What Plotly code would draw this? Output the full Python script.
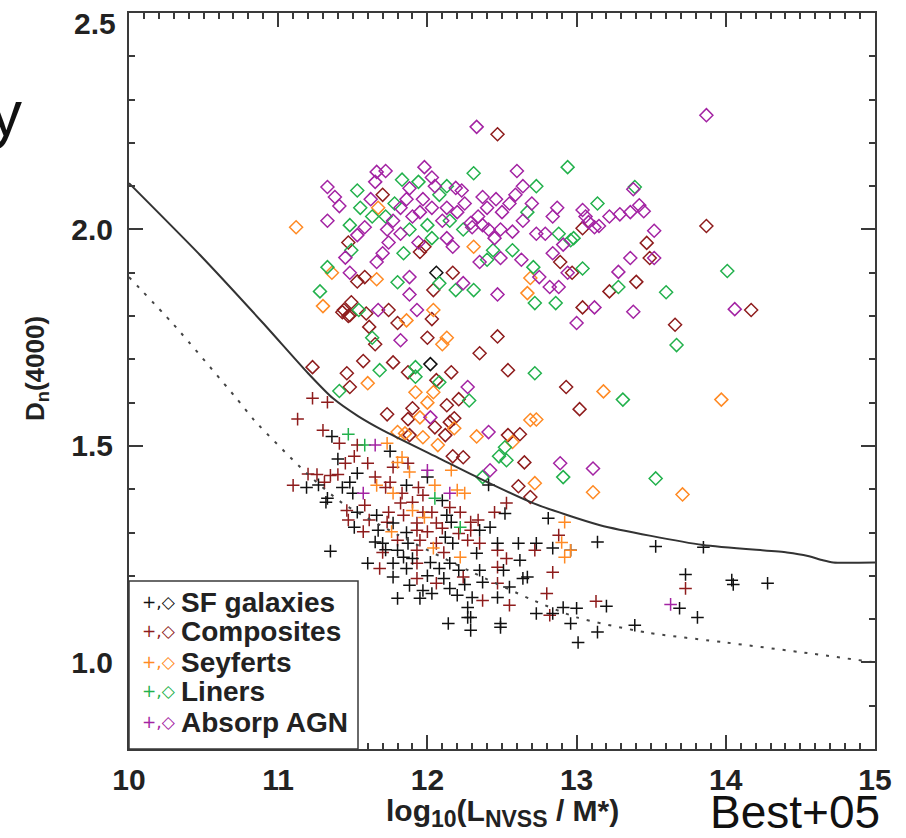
import plotly.graph_objects as go

# ---------------- data ----------------
sf_cross = [(11.36,1.522),(11.75,1.488),(12.0,1.428),(11.19,1.404),(11.33,1.379),(11.48,1.416),(11.53,1.437),
    (11.43,1.404),(11.5,1.391),(11.86,1.409),(12.1,1.374),(11.32,1.37),(11.66,1.34),(11.53,1.347),(12.13,1.34),
    (12.52,1.344),(12.81,1.333),(11.51,1.312),(11.77,1.322),(12.16,1.324),(11.67,1.305),(11.86,1.3),(12.12,1.289),
    (12.35,1.305),(12.42,1.312),(11.65,1.278),(11.7,1.275),(11.87,1.275),(12.17,1.275),(12.47,1.275),(12.61,1.275),
    (12.73,1.275),(12.84,1.264),(12.96,1.259),(13.14,1.278),(11.35,1.257),(11.8,1.259),(11.84,1.243),(12.33,1.252),
    (12.62,1.236),(11.6,1.229),(11.77,1.229),(11.86,1.217),(12.02,1.231),(12.08,1.217),(12.15,1.229),(12.21,1.213),
    (12.35,1.213),(12.51,1.213),(12.64,1.194),(12.67,1.197),(11.77,1.197),(12.11,1.194),(12.37,1.185),(12.55,1.174),
    (11.88,1.178),(11.97,1.166),(12.03,1.159),(12.15,1.171),(12.2,1.155),(12.3,1.15),(12.47,1.15),(12.73,1.113),
    (12.91,1.127),(13.0,1.125),(11.8,1.148),(11.95,1.148),(12.27,1.127),(12.29,1.104),(12.14,1.09),(12.49,1.09),
    (12.96,1.09),(13.53,1.268),(13.85,1.266),(13.73,1.203),(14.04,1.19),(14.05,1.18),(14.28,1.183),(13.69,1.125),
    (13.81,1.104),(13.2,1.13),(13.14,1.07),(13.01,1.046),(13.39,1.086),(11.27,1.41),(11.4,1.47),(12.41,1.41),
    (12.49,1.081),(12.29,1.074),(12.27,1.104),(12.84,1.113),(11.9,1.24),(12.0,1.2),(12.25,1.18),(11.72,1.26)]
sf_diam = [(12.06,1.9),(12.02,1.689)]

comp_cross = [(11.23,1.61),(11.33,1.601),(11.13,1.562),(11.3,1.536),(11.41,1.506),(11.53,1.502),(11.51,1.476),
    (11.6,1.46),(11.87,1.46),(11.77,1.451),(11.26,1.434),(11.35,1.432),(11.4,1.434),(11.1,1.409),(11.31,1.416),
    (11.65,1.428),(11.72,1.404),(11.83,1.391),(11.75,1.416),(11.94,1.404),(11.97,1.386),(11.9,1.37),(11.82,1.368),
    (11.58,1.363),(11.46,1.351),(11.74,1.347),(11.84,1.34),(11.97,1.347),(12.03,1.347),(12.15,1.358),(12.22,1.347),
    (11.47,1.329),(11.61,1.329),(11.73,1.324),(11.93,1.322),(12.06,1.322),(12.29,1.324),(12.34,1.329),(12.45,1.347),
    (12.53,1.368),(12.88,1.294),(11.57,1.302),(11.93,1.305),(12.0,1.302),(12.21,1.298),(12.29,1.305),(11.8,1.282),
    (11.95,1.282),(12.06,1.275),(12.27,1.282),(12.35,1.275),(11.7,1.254),(11.93,1.259),(12.11,1.254),(12.47,1.259),
    (12.53,1.24),(12.72,1.259),(11.68,1.217),(11.93,1.229),(12.47,1.22),(12.84,1.208),(11.93,1.194),(12.24,1.197),
    (12.47,1.183),(12.06,1.183),(12.37,1.143),(12.55,1.132),(12.8,1.159),(12.82,1.109),(13.13,1.141),(13.73,1.171),
    (11.2,1.435),(11.45,1.46),(12.1,1.31)]
comp_diam = [(12.47,2.22),(11.7,2.08),(11.98,1.96),(11.53,1.88),(11.58,1.89),(11.95,1.948),(12.04,1.86),(12.17,1.9),
    (12.97,1.9),(13.04,1.82),(11.44,1.814),(11.49,1.832),(11.47,1.8),(11.59,1.806),(11.74,1.814),(11.8,1.784),
    (12.03,1.793),(11.61,1.775),(12.89,1.925),(13.04,2.003),(13.87,2.008),(13.47,1.969),(13.49,1.934),(13.4,1.879),
    (13.22,1.857),(14.17,1.814),(13.66,1.78),(12.93,1.636),(13.02,1.585),(12.0,1.75),(12.47,1.753),(11.65,1.735),
    (11.23,1.682),(11.46,1.668),(11.57,1.696),(11.77,1.693),(11.48,1.636),(11.87,1.67),(12.06,1.652),(12.16,1.67),
    (12.21,1.608),(12.13,1.594),(11.9,1.587),(11.87,1.562),(11.73,1.573),(12.05,1.543),(12.15,1.555),(12.18,1.564),
    (12.12,1.525),(11.88,1.525),(12.17,1.476),(12.24,1.474),(12.54,1.525),(12.62,1.527),(12.54,1.675),(12.35,1.714),
    (12.65,1.462),(12.61,1.407),(12.69,1.382),(11.47,1.97),(11.43,1.809),(11.48,1.802)]

sey_cross = [(11.73,1.506),(11.8,1.462),(11.83,1.474),(11.88,1.44),(11.66,1.409),(11.77,1.391),(12.05,1.409),
    (12.2,1.398),(12.25,1.391),(12.16,1.444),(11.9,1.351),(11.98,1.335),(11.76,1.302),(12.04,1.264),(12.22,1.243),
    (12.92,1.324),(12.96,1.259),(12.92,1.243),(12.9,1.277)]
sey_diam = [(11.67,2.05),(11.36,1.9),(11.66,1.885),(12.31,1.96),(12.69,1.888),(12.67,1.853),(11.3,1.823),(11.86,1.79),
    (12.04,1.814),(11.12,2.005),(12.13,1.75),(12.1,1.735),(11.6,1.645),(11.92,1.624),(12.04,1.624),(12.0,1.6),
    (11.95,1.566),(12.18,1.541),(11.8,1.532),(11.85,1.529),(11.97,1.52),(12.07,1.502),(12.33,1.522),(12.57,1.509),
    (12.69,1.56),(12.73,1.561),(12.72,1.414),(13.11,1.393),(13.18,1.626),(13.97,1.607),(13.71,1.388)]

lin_cross = [(11.47,1.527),(11.58,1.502),(12.05,1.379),(12.22,1.312)]
lin_diam = [(12.31,2.13),(12.94,2.144),(11.53,2.09),(11.83,2.115),(11.94,2.11),(12.13,2.1),(12.08,2.08),(12.73,2.1),
    (11.72,2.03),(11.63,2.03),(11.48,2.01),(11.55,2.05),(11.88,2.0),(11.84,1.945),(12.03,1.98),(12.24,2.0),
    (12.67,2.04),(12.88,1.99),(12.96,1.975),(13.14,2.06),(11.33,1.913),(11.8,1.878),(12.08,1.876),(12.19,1.86),
    (12.31,1.86),(12.4,1.93),(12.44,1.952),(12.57,1.952),(12.71,1.913),(13.04,1.91),(12.72,1.83),(12.86,1.83),
    (11.28,1.857),(11.54,1.814),(13.39,2.098),(12.98,1.98),(13.28,1.867),(14.01,1.904),(13.6,1.855),(13.67,1.733),
    (13.31,1.607),(12.91,1.428),(13.53,1.425),(11.63,1.75),(11.68,1.675),(11.41,1.627),(11.92,1.682),(11.92,1.66),
    (12.08,1.647),(12.28,1.605),(12.52,1.497),(12.48,1.476),(12.53,1.467),(12.37,1.428),(12.72,1.668),(11.49,1.952),
    (11.78,2.06),(12.0,2.01),(12.15,2.02)]

abs_cross = [(11.65,1.502),(11.57,1.391),(12.0,1.444),(12.15,1.391),(13.63,1.134)]
abs_diam = [(12.33,2.237),(11.98,2.144),(12.6,2.135),(11.66,2.133),(11.72,2.135),(11.33,2.098),(11.38,2.075),
    (11.41,2.054),(11.33,2.02),(11.65,2.11),(11.88,2.095),(12.03,2.12),(12.05,2.1),(12.19,2.096),(12.23,2.09),
    (11.97,2.07),(12.37,2.075),(12.46,2.07),(12.59,2.08),(12.64,2.1),(12.55,2.06),(12.4,2.05),(12.34,2.03),
    (12.29,2.015),(12.37,2.01),(12.2,2.04),(12.13,2.05),(12.03,2.05),(11.95,2.04),(11.82,2.05),(11.77,2.02),
    (11.58,2.005),(11.73,2.0),(11.82,1.99),(11.74,1.97),(11.7,1.945),(11.94,1.97),(12.13,1.98),(12.17,1.96),
    (12.3,2.005),(12.41,2.0),(12.49,2.0),(12.57,1.995),(12.64,2.02),(12.73,1.99),(12.79,1.99),(12.87,2.05),
    (12.84,2.03),(12.91,1.965),(13.04,2.045),(13.06,2.03),(13.12,2.005),(11.66,1.925),(11.45,1.935),(11.48,1.9),
    (11.88,1.89),(12.24,1.876),(12.35,1.925),(12.49,1.934),(12.63,1.93),(12.75,1.89),(12.84,1.945),(12.94,1.9),
    (12.88,1.867),(12.82,1.867),(12.47,1.85),(13.12,1.82),(13.0,1.784),(11.67,1.814),(11.93,1.814),(11.88,1.85),
    (13.87,2.264),(13.38,2.093),(13.08,2.017),(13.15,2.008),(13.22,2.03),(13.29,2.035),(13.36,2.04),(13.42,2.056),
    (13.45,2.042),(13.52,1.997),(13.52,1.934),(13.36,1.934),(13.28,1.902),(13.38,1.81),(14.06,1.816),(12.89,1.46),
    (13.11,1.448),(11.82,1.744),(12.27,1.636),(12.02,1.566),(12.41,1.532),(12.42,1.444),(11.53,1.987),
    (11.9,2.03),(12.25,2.06),(12.5,2.04),(12.7,2.06),(11.62,2.07),(12.1,2.02),(12.45,1.98),(11.86,2.07)]

solid_x = [10.0, 10.476, 10.898, 11.2, 11.367, 11.535, 11.702, 12.064, 12.373, 12.708, 13.157, 13.847, 14.41, 14.55, 14.65, 14.72, 15.0]
solid_y = [2.107, 1.941, 1.784, 1.668, 1.61, 1.569, 1.536, 1.474, 1.421, 1.368, 1.317, 1.271, 1.254, 1.246, 1.236, 1.231, 1.231]
dot_x = [10.0, 10.3, 10.72, 10.84, 11.19, 11.43, 11.8, 12.29, 12.7, 13.0, 13.47, 14.0, 14.56, 15.0]
dot_y = [1.89, 1.78, 1.61, 1.559, 1.437, 1.368, 1.295, 1.21, 1.145, 1.104, 1.069, 1.046, 1.021, 1.0]

classes = ["SF galaxies", "Composites", "Seyferts", "Liners", "Absorp AGN"]
colors = ["#111111", "#8e1c1c", "#ff8a24", "#22b14c", "#a323a3"]
crosses = [sf_cross, comp_cross, sey_cross, lin_cross, abs_cross]
diamonds = [sf_diam, comp_diam, sey_diam, lin_diam, abs_diam]
y_ticks = [1.0, 1.5, 2.0, 2.5]
y_top_label = "2.5"   # the top label sits a little below its tick in the reference
x_ticks = [10, 11, 12, 13, 14, 15]

# ---------------- figure ----------------
FONT = "Liberation Sans, Arial, Helvetica, sans-serif"
AX = "#3a3a3a"
fig = go.Figure()

for name, col, dm in zip(classes, colors, diamonds):
    fig.add_trace(go.Scatter(x=[p[0] for p in dm], y=[p[1] for p in dm], mode="markers", name=name,
                             marker=dict(symbol="diamond-open", size=10, color=col, line=dict(width=1.5, color=col))))
order = [1, 0, 2, 3, 4]
for i in order:
    cr = crosses[i]
    fig.add_trace(go.Scatter(x=[p[0] for p in cr], y=[p[1] for p in cr], mode="markers", name=classes[i],
                             marker=dict(symbol="cross-thin-open", size=9, color=colors[i],
                                         line=dict(width=1.5, color=colors[i]))))

fig.add_trace(go.Scatter(x=solid_x, y=solid_y, mode="lines", line=dict(color="#333333", width=2, shape="spline", smoothing=0.6)))
fig.add_trace(go.Scatter(x=dot_x, y=dot_y, mode="lines", line=dict(color="#444444", width=2, dash="3px,8px", shape="spline", smoothing=0.6)))

tickfont = dict(family=FONT, size=30, color="#222222", weight="bold")
fig.update_xaxes(range=[10, 15], tickvals=x_ticks, ticktext=[str(v) for v in x_ticks], showline=True, linecolor=AX,
                 linewidth=2, mirror="allticks", ticks="inside", ticklen=14, tickwidth=1.5, tickcolor=AX,
                 showgrid=False, zeroline=False, tickfont=tickfont, ticklabelstandoff=3, ticklabeloverflow="allow",
                 automargin=False,
                 minor=dict(ticks="inside", ticklen=6, dtick=0.1, tick0=10, tickwidth=1.5, tickcolor=AX, showgrid=False))
fig.update_yaxes(range=[0.8, 2.5], tickvals=y_ticks,
                 ticktext=["%.1f" % v if v < 2.5 else "" for v in y_ticks], showline=True,
                 linecolor=AX, linewidth=2, mirror="allticks", ticks="inside", ticklen=14, tickwidth=1.5,
                 tickcolor=AX, showgrid=False, zeroline=False, tickfont=tickfont, ticklabelstandoff=8,
                 ticklabeloverflow="allow", automargin=False,
                 minor=dict(ticks="inside", ticklen=6, dtick=0.1, tick0=0.8, tickwidth=1.5, tickcolor=AX, showgrid=False))

W, H = 906, 838
L, R, T, B = 129, 31, 13, 89
pw, ph = W - L - R, H - T - B
def px(x): return (x - L) / pw
def py(y): return (H - B - y) / ph

SUB = "<sub><span style='font-size:23px'>%s</span></sub>"
xtitle = "<b>log" + SUB % "10" + "(L" + SUB % "NVSS" + " / M*)</b>"
ann = []
ann.append(dict(text="<b>%s</b>" % y_top_label, x=px(118), y=py(23), xref="paper", yref="paper", showarrow=False,
                xanchor="right", yanchor="middle", font=dict(family=FONT, size=30, color="#222222")))
ann.append(dict(text=xtitle, x=0.5, y=py(813), xref="paper", yref="paper",
                showarrow=False, xanchor="center", yanchor="middle", font=dict(family=FONT, size=30, color="#222222")))
ann.append(dict(text="<b>D<sub>n</sub>(4000)</b>", x=px(36), y=py(369), xref="paper", yref="paper", textangle=-90,
                showarrow=False, xanchor="center", yanchor="middle", font=dict(family=FONT, size=26, color="#222222")))
ann.append(dict(text="y", x=px(24), y=py(114), xref="paper", yref="paper", showarrow=False, xanchor="right",
                yanchor="middle", font=dict(family=FONT, size=64, color="#111111")))
ann.append(dict(text="Best+05", x=px(882), y=py(812), xref="paper", yref="paper", showarrow=False, xanchor="right",
                yanchor="middle", font=dict(family=FONT, size=46, color="#111111")))

leg_y = [602, 631, 662, 691, 722]
for name, col, yy in zip(classes, colors, leg_y):
    ann.append(dict(text="+,\u25c7", x=px(140), y=py(yy), xref="paper", yref="paper", showarrow=False,
                    xanchor="left", yanchor="middle", font=dict(family="DejaVu Sans", size=17, color=col)))
    ann.append(dict(text="<b>%s</b>" % name, x=px(179), y=py(yy), xref="paper", yref="paper", showarrow=False,
                    xanchor="left", yanchor="middle", font=dict(family=FONT, size=28, color="#222222")))

fig.update_layout(width=W, height=H, margin=dict(l=L, r=R, t=T, b=B, autoexpand=False), paper_bgcolor="white",
                  plot_bgcolor="white", showlegend=False, annotations=ann,
                  shapes=[dict(type="rect", xref="paper", yref="paper", x0=0, x1=px(358), y0=0, y1=py(581),
                               fillcolor="white", line=dict(color=AX, width=1.5), layer="above")])

fig.write_html("out.html")
